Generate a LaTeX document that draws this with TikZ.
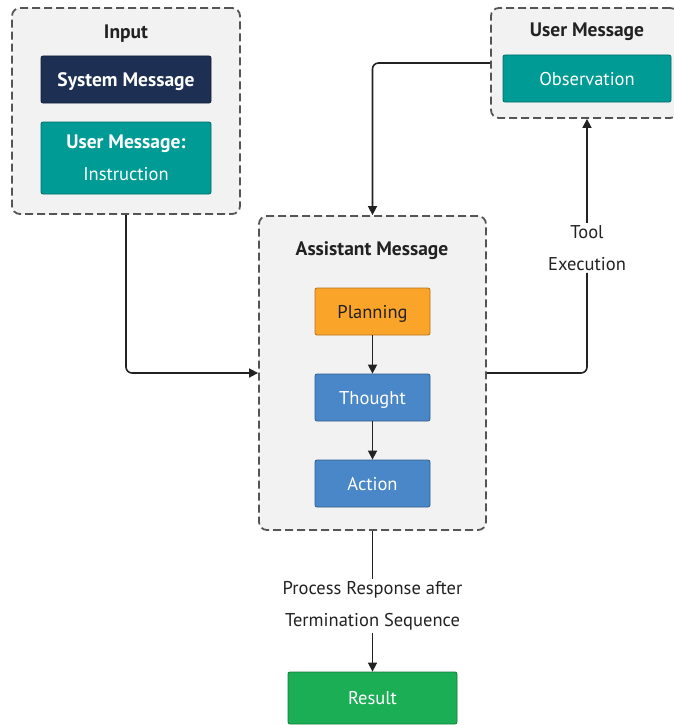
\documentclass[tikz,border=0pt]{standalone}
\usepackage{fontspec}
\setmainfont{PT Sans}
\usetikzlibrary{arrows.meta,positioning}
\definecolor{navy}{HTML}{1D2F52}
\definecolor{teal2}{HTML}{009B95}
\definecolor{orng}{HTML}{FBA42A}
\definecolor{blu}{HTML}{4A87C8}
\definecolor{grn}{HTML}{1BAE55}
\definecolor{panel}{HTML}{F2F2F2}
\definecolor{dash}{HTML}{555555}
\definecolor{ink}{HTML}{222222}
\tikzset{
  container/.style={draw=dash, fill=panel, dashed, dash pattern=on 8pt off 4pt, line width=1.8pt, rounded corners=8pt},
  box/.style={draw=#1!70!black, fill=#1, rounded corners=2pt, line width=0.8pt, text=white, font=\fontsize{18.5}{20}\selectfont, align=center, inner sep=0pt, text height=13pt, text depth=0pt},
  box2/.style={draw=#1!70!black, fill=#1, rounded corners=2pt, line width=0.8pt, text=white, font=\fontsize{18.5}{32}\selectfont, align=center, inner sep=0pt},
  title/.style={font=\bfseries\fontsize{19.5}{22}\selectfont, text=ink, text height=13.5pt, text depth=0pt},
  lbl/.style={font=\fontsize{18.5}{32}\selectfont, text=ink, align=center, fill=white, inner sep=2pt},
  conn/.style={draw=ink, line width=1.6pt, rounded corners=6pt},
  arr/.style={conn, -{Triangle[length=9pt,width=9pt]}}
}
\begin{document}
\begin{tikzpicture}[x=1pt,y=1pt]
\useasboundingbox (0,0) rectangle (674,-725);
% containers
\node[container, minimum width=228pt, minimum height=206pt] (inbox) at (126,-111) {};
\node[container, minimum width=187pt, minimum height=110pt] (umbox) at (584.5,-63) {};
\node[container, minimum width=227pt, minimum height=314pt] (asbox) at (372.5,-373) {};
% titles
\node[title] (intitle) at (126,-32) {Input};
\node[title] (umtitle) at (587,-30) {User Message};
\node[title] (astitle) at (372,-249) {Assistant Message};
% inner boxes
\node[box=navy, minimum width=170pt, minimum height=47pt, font=\bfseries\fontsize{19.5}{20}\selectfont, text height=13.5pt] (sys) at (126,-79.5) {System Message};
\node[box2=teal2, minimum width=170pt, minimum height=72pt] (usr) at (126,-158) {\textbf{\fontsize{19.5}{32}\selectfont User Message:}\\Instruction};
\node[box=teal2, minimum width=168pt, minimum height=47pt] (obs) at (587,-78.5) {Observation};
\node[box=orng, text=ink, minimum width=115pt, minimum height=47pt] (plan) at (372.5,-311.5) {Planning};
\node[box=blu, minimum width=115pt, minimum height=47pt] (thought) at (372.5,-397.5) {Thought};
\node[box=blu, minimum width=115pt, minimum height=47pt] (action) at (372.5,-483.5) {Action};
\node[box=grn, minimum width=169pt, minimum height=52pt] (result) at (372.5,-698) {Result};
% labels
\node[lbl] (tool) at (587,-248) {Tool\\Execution};
\node[lbl] (proc) at (372.5,-606) {Process Response after\\Termination Sequence};
% connectors
\draw[arr] (plan) -- (thought);
\draw[arr] (thought) -- (action);
\draw[arr] (inbox.south) |- (asbox.west);
\draw[conn] (asbox.east) -| (tool.south);
\draw[arr] (tool.north) -- (tool.north |- umbox.south);
\draw[arr] (umbox.west) -| (asbox.north);
\draw[conn] (asbox.south) -- (proc.north);
\draw[arr] (proc.south) -- (result.north);
\end{tikzpicture}
\end{document}
